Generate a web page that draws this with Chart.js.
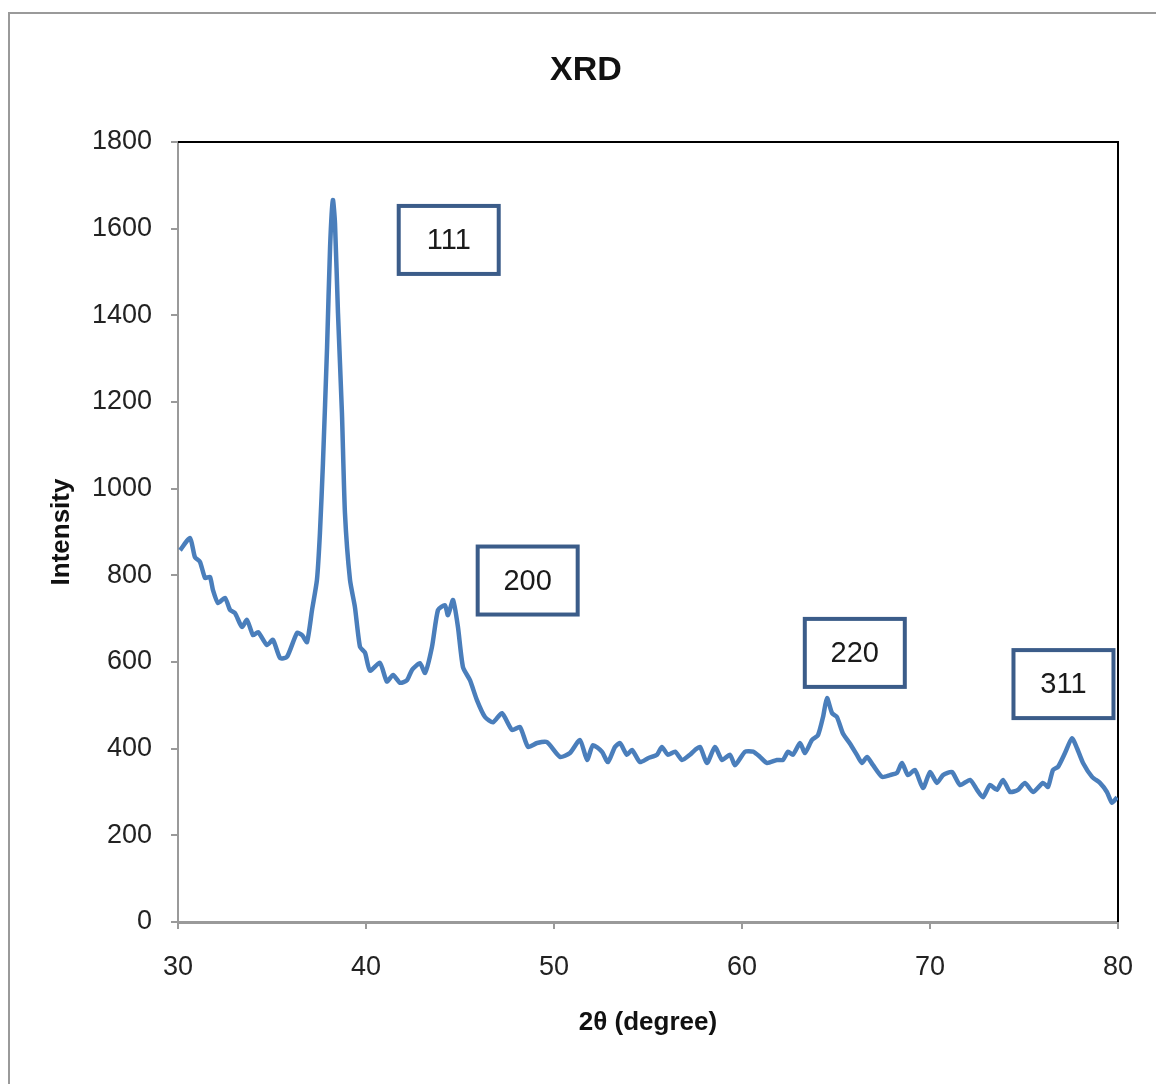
<!DOCTYPE html>
<html>
<head>
<meta charset="utf-8">
<script src="https://cdn.jsdelivr.net/npm/chart.js@4.4.1/dist/chart.umd.min.js"></script>
<style>
  html, body { margin: 0; padding: 0; background: #fff; overflow: hidden; }
  #frame { position: absolute; left: 8px; top: 12px; width: 1160px; height: 1090px; border: 2px solid #9a9a9a; }
  #xrd { position: absolute; left: 0; top: 0; }
</style>
</head>
<body>
<div id="frame"></div>
<canvas id="xrd" width="1156" height="1084"></canvas>
<script>
// XRD pattern, values
const twoTheta = [
  30.11, 30.64, 30.90, 31.17, 31.44, 31.70, 31.86, 32.13, 32.50, 32.77,
  33.03, 33.40, 33.67, 33.99, 34.26, 34.73, 35.05, 35.43, 35.80, 36.33,
  36.60, 36.86, 37.13, 37.39, 37.55, 37.71, 37.93, 38.09, 38.24, 38.35,
  38.51, 38.72, 38.88, 39.15, 39.41, 39.68, 39.95, 40.21, 40.74, 41.11,
  41.44, 41.81, 42.18, 42.45, 42.87, 43.14, 43.51, 43.83, 44.20, 44.36,
  44.63, 44.89, 45.16, 45.53, 45.90, 46.33, 46.76, 47.23, 47.77, 48.19,
  48.62, 49.10, 49.63, 50.32, 50.85, 51.38, 51.76, 52.07, 52.55, 52.87,
  53.24, 53.51, 53.88, 54.15, 54.57, 55.00, 55.48, 55.74, 56.06, 56.44,
  56.81, 57.23, 57.50, 57.77, 58.14, 58.56, 58.94, 59.36, 59.63, 60.16,
  60.59, 60.96, 61.33, 61.86, 62.18, 62.45, 62.71, 63.09, 63.35, 63.72,
  64.04, 64.31, 64.52, 64.79, 65.05, 65.37, 65.74, 66.12, 66.38, 66.65,
  66.97, 67.45, 67.87, 68.24, 68.51, 68.83, 69.20, 69.63, 70.00, 70.37,
  70.69, 71.17, 71.60, 72.13, 72.50, 72.82, 73.19, 73.56, 73.88, 74.26,
  74.68, 75.05, 75.48, 76.01, 76.28, 76.54, 76.81, 77.18, 77.55, 77.82,
  78.14, 78.62, 79.04, 79.41, 79.68, 79.95
];
const intensity = [
  858, 886, 842, 831, 794, 796, 766, 736, 748, 720,
  713, 681, 697, 662, 669, 639, 651, 609, 612, 667,
  662, 646, 720, 789, 898, 1059, 1327, 1558, 1666, 1613,
  1405, 1175, 944, 789, 727, 635, 621, 580, 598, 555,
  570, 552, 558, 582, 597, 575, 635, 720, 731, 708,
  743, 681, 588, 558, 512, 473, 461, 482, 443, 450,
  404, 413, 415, 381, 390, 420, 374, 408, 393, 369,
  404, 413, 386, 397, 369, 378, 386, 404, 386, 393,
  374, 386, 397, 404, 367, 404, 374, 386, 362, 393,
  393, 381, 367, 374, 374, 393, 386, 413, 390, 420,
  431, 473, 517, 482, 473, 435, 412, 385, 367, 381,
  362, 335, 339, 344, 367, 339, 351, 309, 346, 321,
  339, 346, 316, 328, 305, 288, 316, 305, 328, 300,
  305, 321, 300, 321, 312, 351, 358, 390, 424, 401,
  367, 335, 321, 300, 275, 288
];

// peak labels (Miller indices) and where their boxes sit, in data units
const peakLabels = ["111", "200", "220", "311"];
const peakLabelX = [44.4, 48.6, 66.0, 77.1];
const peakLabelY = [1574, 788, 621, 549];

const xTicks = [30, 40, 50, 60, 70, 80];
const yTicks = [0, 200, 400, 600, 800, 1000, 1200, 1400, 1600, 1800];

const FONT = "'Liberation Sans', Arial, sans-serif";

const points = twoTheta.map((x, i) => ({ x, y: intensity[i] }));

const xrdDecor = {
  id: "xrdDecor",
  beforeDatasetsDraw(chart) {
    const { ctx, chartArea: a } = chart;
    ctx.save();
    ctx.strokeStyle = "#000";
    ctx.lineWidth = 2;
    ctx.beginPath();
    ctx.moveTo(a.left, a.top);
    ctx.lineTo(a.right, a.top);
    ctx.lineTo(a.right, a.bottom);
    ctx.stroke();
    ctx.restore();
  },
  afterDatasetsDraw(chart) {
    const { ctx } = chart;
    const xs = chart.scales.x, ys = chart.scales.y;
    ctx.save();
    peakLabels.forEach((txt, i) => {
      const cx = xs.getPixelForValue(peakLabelX[i]);
      const cy = ys.getPixelForValue(peakLabelY[i]);
      const w = 100, h = 68;
      ctx.fillStyle = "#fff";
      ctx.fillRect(cx - w / 2, cy - h / 2, w, h);
      ctx.strokeStyle = "#3b5c89";
      ctx.lineWidth = 4;
      ctx.strokeRect(cx - w / 2, cy - h / 2, w, h);
      ctx.fillStyle = "#1a1a1a";
      ctx.font = "29px " + FONT;
      ctx.textAlign = "center";
      ctx.textBaseline = "middle";
      ctx.fillText(txt, cx, cy + 1);
    });
    // chart title
    ctx.fillStyle = "#111";
    ctx.font = "bold 34px " + FONT;
    ctx.textAlign = "center";
    ctx.textBaseline = "middle";
    ctx.fillText("XRD", 586, 71);
    ctx.restore();
  }
};

new Chart(document.getElementById("xrd"), {
  type: "line",
  data: {
    datasets: [{
      data: points,
      borderColor: "#4a7ebb",
      borderWidth: 4.5,
      pointRadius: 0,
      tension: 0.2,
      fill: false
    }]
  },
  options: {
    responsive: false,
    animation: false,
    layout: { padding: { top: 142, left: 0, right: 38, bottom: 0 } },
    plugins: {
      legend: { display: false },
      title: { display: false },
      tooltip: { enabled: false }
    },
    scales: {
      x: {
        type: "linear",
        min: 30,
        max: 80,
        afterBuildTicks: (s) => { s.ticks = xTicks.map(v => ({ value: v })); },
        afterFit: (s) => { s.height = 162; },
        grid: { drawOnChartArea: false, drawTicks: true, tickLength: 7, color: "#9a9a9a", lineWidth: 2 },
        border: { color: "#9a9a9a", width: 3 },
        ticks: { color: "#222", padding: 22, font: { family: FONT, size: 27 }, callback: (v) => String(v) },
        title: {
          display: true,
          text: "2θ (degree)",
          color: "#111",
          font: { family: FONT, size: 26, weight: "bold" },
          padding: { top: 0, bottom: 46 }
        }
      },
      y: {
        min: 0,
        max: 1800,
        afterBuildTicks: (s) => { s.ticks = yTicks.map(v => ({ value: v })); },
        afterFit: (s) => { s.width = 178; },
        grid: { drawOnChartArea: false, drawTicks: true, tickLength: 7, color: "#9a9a9a", lineWidth: 2 },
        border: { color: "#9a9a9a", width: 2 },
        ticks: { color: "#222", padding: 19, font: { family: FONT, size: 27 }, callback: (v) => String(v) },
        title: {
          display: true,
          text: "Intensity",
          color: "#111",
          font: { family: FONT, size: 26, weight: "bold" },
          padding: { top: 46, bottom: 0 }
        }
      }
    }
  },
  plugins: [xrdDecor]
});
</script>
</body>
</html>
